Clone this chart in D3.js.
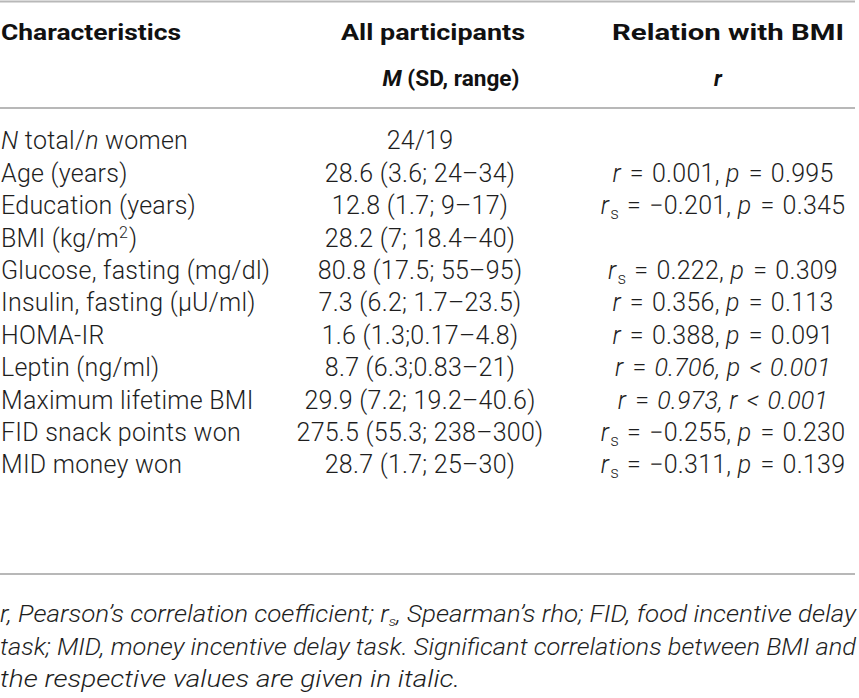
<!DOCTYPE html>
<html><head><meta charset="utf-8">
<script src="https://cdn.jsdelivr.net/npm/d3@7"></script>
<style>body{margin:0;background:#fff}svg{display:block}</style>
</head><body>
<script>
// ---- data ----
const characteristics = ["N total/n women","Age (years)","Education (years)","BMI (kg/m2)","Glucose, fasting (mg/dl)","Insulin, fasting (μU/ml)","HOMA-IR","Leptin (ng/ml)","Maximum lifetime BMI","FID snack points won","MID money won"];
const allParticipants = ["24/19","28.6 (3.6; 24–34)","12.8 (1.7; 9–17)","28.2 (7; 18.4–40)","80.8 (17.5; 55–95)","7.3 (6.2; 1.7–23.5)","1.6 (1.3;0.17–4.8)","8.7 (6.3;0.83–21)","29.9 (7.2; 19.2–40.6)","275.5 (55.3; 238–300)","28.7 (1.7; 25–30)"];
const relStat = ["","r","rs","","rs","r","r","r","r","rs","rs"];
const relR = ["","0.001","−0.201","","0.222","0.356","0.388","0.706","0.973","−0.255","−0.311"];
const relPName = ["","p","p","","p","p","p","p","r","p","p"];
const relPOp = ["","=","=","","=","=","=","<","<","=","="];
const relP = ["","0.995","0.345","","0.309","0.113","0.091","0.001","0.001","0.230","0.139"];
const significant = [false,false,false,false,false,false,false,true,true,false,false];
const headers = ["Characteristics","All participants","Relation with BMI"];
const footnote = [
  "r, Pearson’s correlation coefficient; r|s|, Spearman’s rho; FID, food incentive delay",
  "task; MID, money incentive delay task. Significant correlations between BMI and",
  "the respective values are given in italic."
];

const W = 859, H = 698;
const svg = d3.select("body").append("svg").attr("width", W).attr("height", H);
const ink = "#1e1e1e", rule = "#b8b8b8";
const dataFont = "Roboto, 'Liberation Sans', sans-serif";
const fs = 25;

const y = d3.scaleLinear().domain([0, characteristics.length - 1]).range([140.5, 464.5]);
const x = d3.scaleOrdinal().domain(["c1","c2","c3"]).range([1, 420, 723]);

// rules
const rules = [1.5, 108, 574];
svg.selectAll("line.rule").data(rules).join("line").attr("class","rule")
  .attr("x1", 0).attr("x2", 855).attr("y1", d => d).attr("y2", d => d)
  .attr("stroke", rule).attr("stroke-width", 2.2);

// headers
const hdr = svg.append("g").attr("font-family", dataFont).attr("font-weight", 700)
  .attr("font-size", 22).attr("fill", "#111");
hdr.append("text").attr("x", x("c1")).attr("y", 39.5).attr("textLength", 180).attr("lengthAdjust","spacingAndGlyphs").text(headers[0]);
hdr.append("text").attr("x", 433).attr("y", 39.5).attr("text-anchor","middle").attr("textLength", 184).attr("lengthAdjust","spacingAndGlyphs").text(headers[1]);
hdr.append("text").attr("x", 728).attr("y", 39.5).attr("text-anchor","middle").attr("textLength", 232).attr("lengthAdjust","spacingAndGlyphs").text(headers[2]);
const h2 = hdr.append("text").attr("x", 451).attr("y", 85.5).attr("text-anchor","middle").attr("textLength", 137).attr("lengthAdjust","spacingAndGlyphs");
h2.append("tspan").attr("font-style","italic").text("M");
h2.append("tspan").text(" (SD, range)");
hdr.append("text").attr("x", 718).attr("y", 85.5).attr("text-anchor","middle").attr("font-style","italic").text("r");

// body
const body = svg.append("g").attr("font-family", dataFont).attr("font-weight", 300)
  .attr("font-size", fs).attr("letter-spacing", 0.25).attr("fill", ink);

const rows = body.selectAll("g.row").data(characteristics.map((c, i) => i)).join("g")
  .attr("class","row").attr("transform", i => `translate(0,${y(i) + 8.8})`);

// column 1
rows.append("text").attr("x", x("c1")).each(function(i){
  const t = d3.select(this), s = characteristics[i];
  if (i === 0) {
    t.append("tspan").attr("font-style","italic").text("N");
    t.append("tspan").text(" total/");
    t.append("tspan").attr("font-style","italic").text("n");
    t.append("tspan").text(" women");
  } else if (s.endsWith("m2)")) {
    t.append("tspan").text(s.slice(0, -2));
    t.append("tspan").attr("font-size", 16).attr("dy", -9).text("2");
    t.append("tspan").attr("dy", 9).attr("dx", 1).text(")");
  } else t.text(s);
});

// column 2
rows.append("text").attr("x", x("c2")).attr("text-anchor","middle").text(i => allParticipants[i]);

// column 3
rows.filter(i => relStat[i] !== "").append("text").attr("x", x("c3")).attr("text-anchor","middle").each(function(i){
  const t = d3.select(this);
  const it = significant[i] ? "italic" : "normal";
  t.append("tspan").attr("font-style","italic").text("r");
  if (relStat[i] === "rs") {
    t.append("tspan").attr("font-size", 17).attr("dy", 5).attr("dx", 1).text("s");
    t.append("tspan").attr("dy", -5).attr("dx", 8).text("=");
  } else t.append("tspan").attr("dx", 9).text("=");
  t.append("tspan").attr("dx", 8).attr("font-style", it).text(relR[i] + ", ");
  t.append("tspan").attr("font-style","italic").text(relPName[i]);
  t.append("tspan").attr("dx", 9).attr("font-style", it).text(relPOp[i]);
  t.append("tspan").attr("dx", 8).attr("font-style", it).text(relP[i]);
});

// footnote
const fy = d3.scaleLinear().domain([0, 2]).range([622, 687]);
const fw = [856, 856, 460];
svg.append("g").attr("font-family", dataFont).attr("font-weight", 300).attr("font-style","italic")
  .attr("font-size", 23).attr("fill", ink)
  .selectAll("text").data(footnote).join("text")
  .attr("x", 0).attr("y", (d, i) => fy(i))
  .attr("textLength", (d, i) => fw[i]).attr("lengthAdjust","spacingAndGlyphs")
  .each(function(d){
    const t = d3.select(this);
    const parts = d.split("|");
    if (parts.length === 3) {
      t.append("tspan").text(parts[0]);
      t.append("tspan").attr("font-size", 13).attr("dy", 4).text(parts[1]);
      t.append("tspan").attr("dy", -4).text(parts[2]);
    } else t.text(d);
  });
</script>
</body></html>
